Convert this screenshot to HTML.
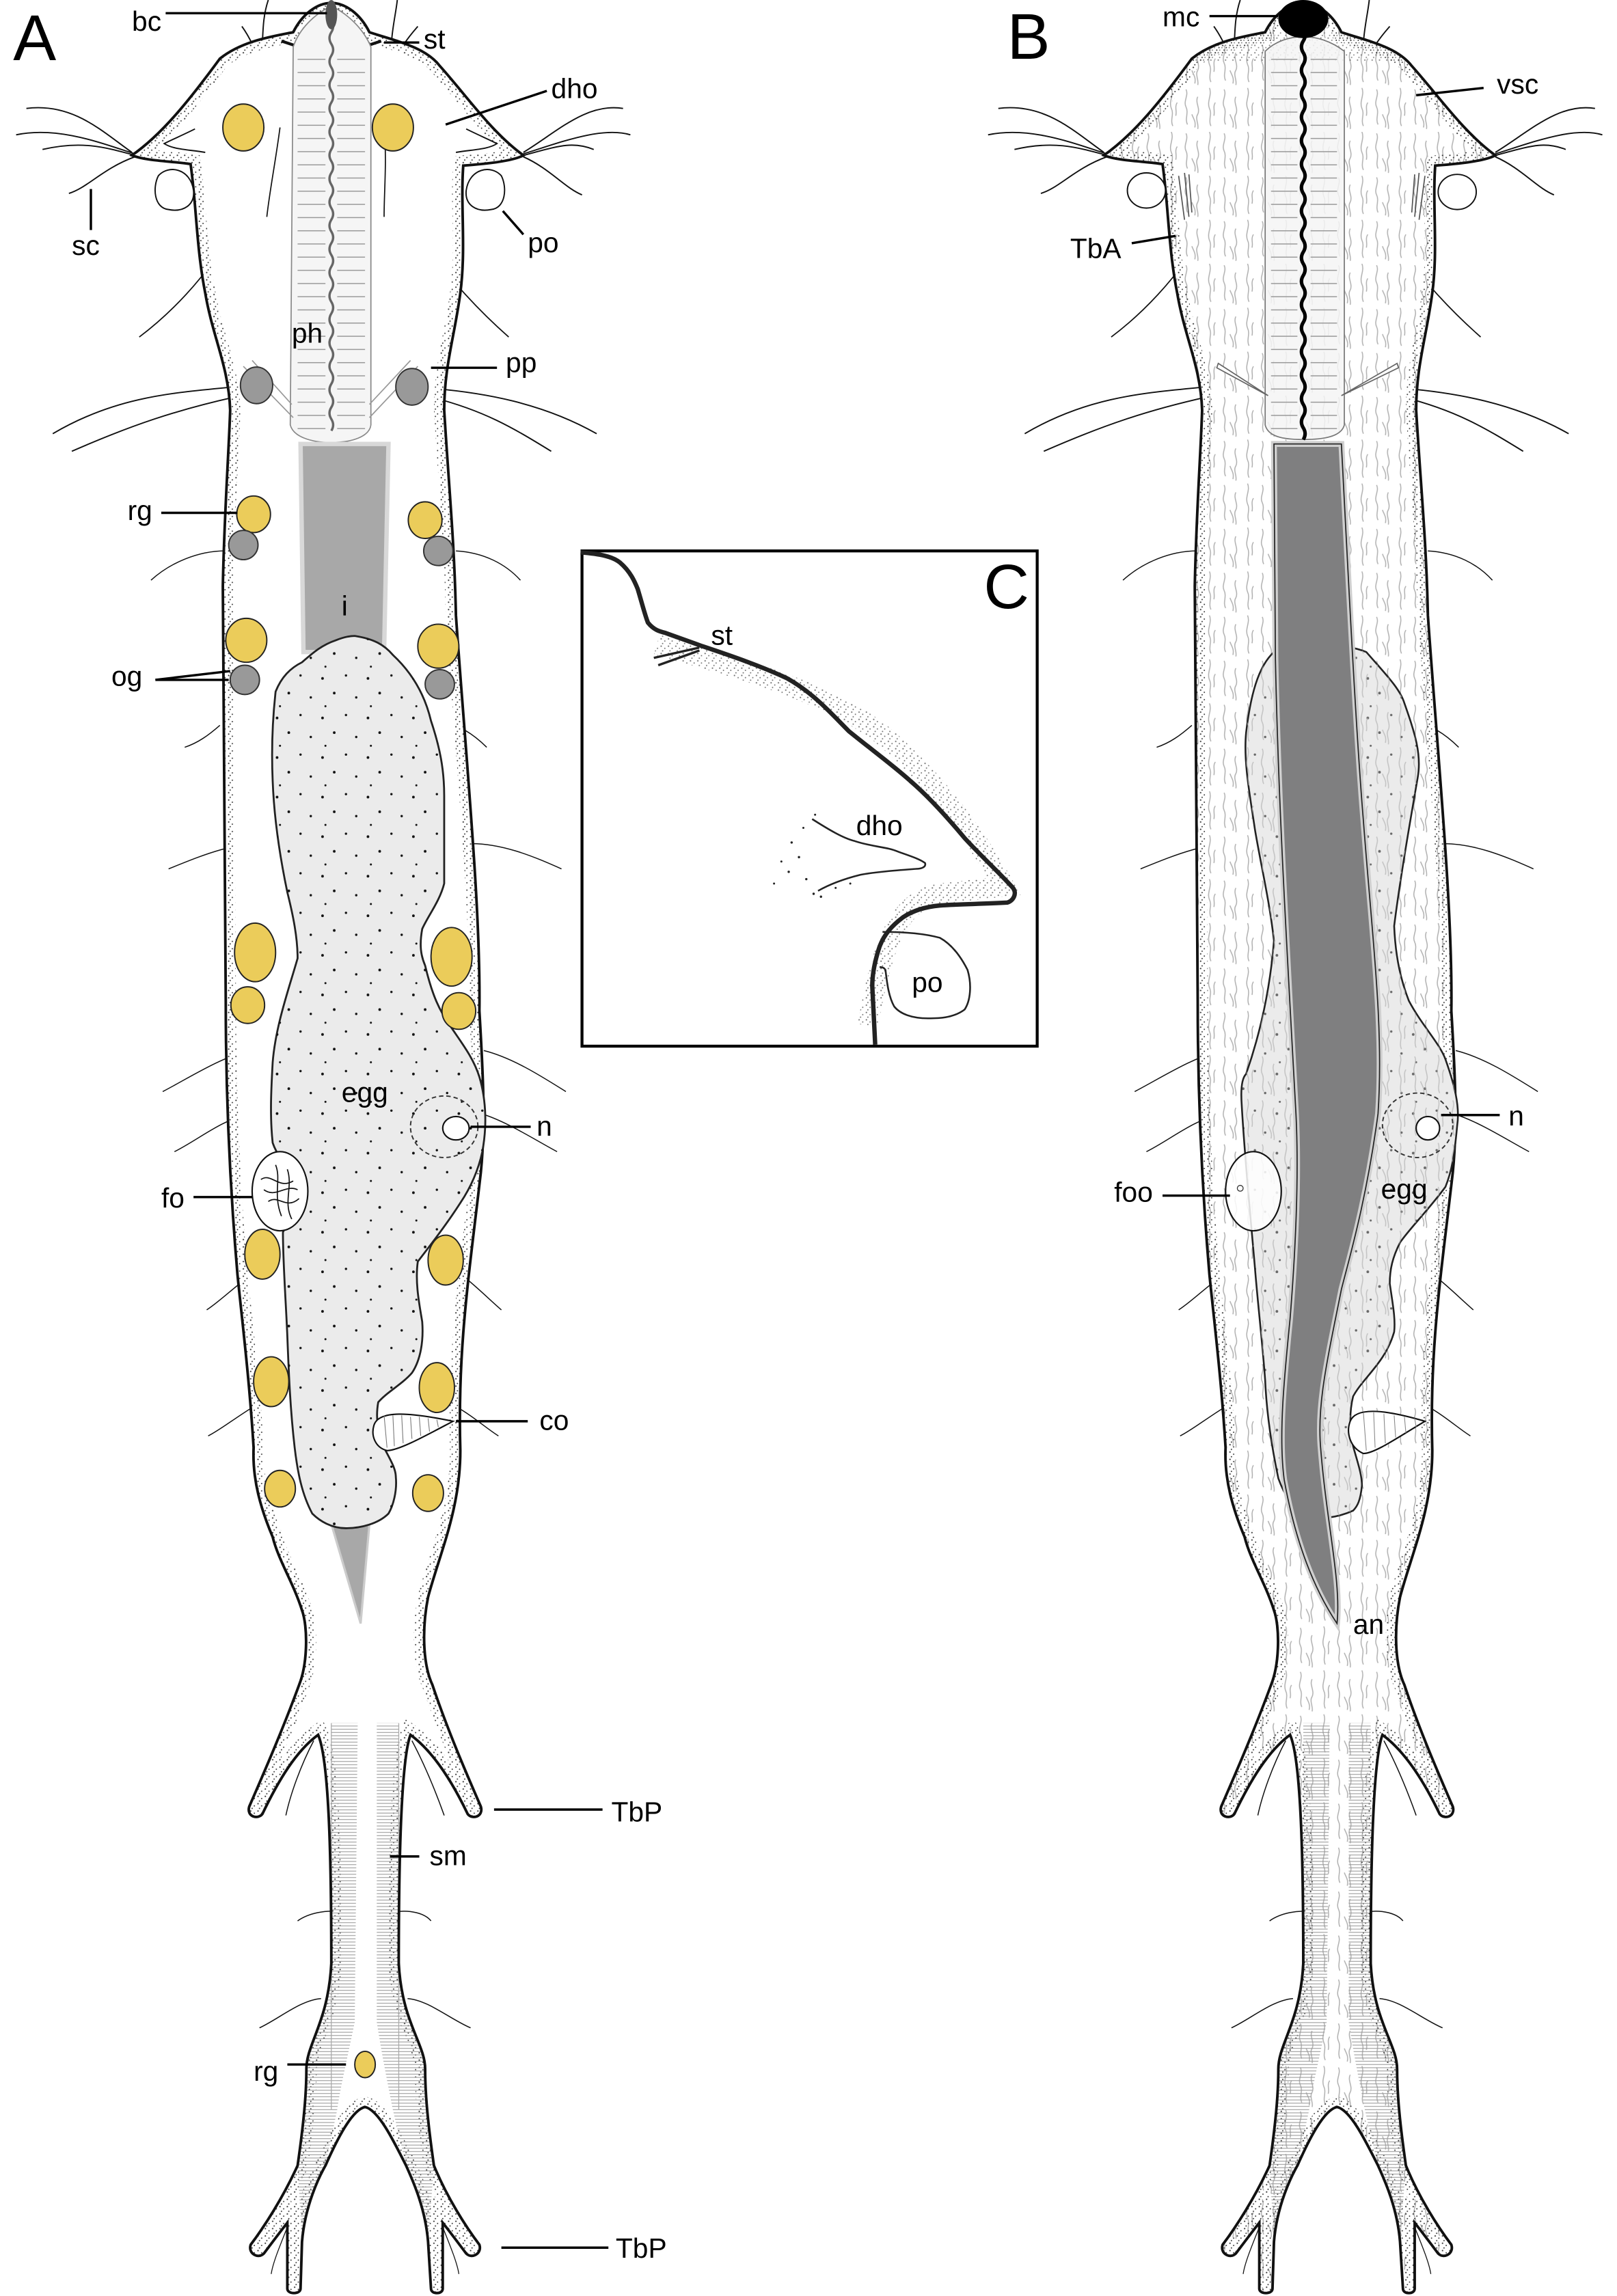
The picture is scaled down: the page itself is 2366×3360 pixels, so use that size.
<!DOCTYPE html>
<html><head><meta charset="utf-8"><style>
html,body{margin:0;padding:0;background:#fff}
svg{display:block}
text{font-family:"Liberation Sans",Arial,sans-serif;fill:#000}
</style></head><body>
<svg width="2366" height="3360" viewBox="0 0 1103 1567" preserveAspectRatio="none" xmlns="http://www.w3.org/2000/svg">
<defs>
<path id="body" d="M226,2 C236,2 246,10 252,22 C270,28 290,32 300,45 C318,65 335,90 357,106 C350,110 330,112 316,113 C314,140 318,170 314,200 C310,230 303,250 303,280 C306,330 310,370 311,420 C318,520 328,620 327,690 C330,740 331,770 328,800 C320,870 312,920 314,990 C314,1030 300,1060 292,1090 C288,1110 288,1135 295,1150 C305,1180 318,1210 328,1233 C330,1240 322,1242 319,1238 C308,1215 295,1195 280,1184 C274,1200 272,1260 272,1340 C274,1380 290,1395 290,1412 C290,1430 292,1450 296,1478 C305,1500 318,1520 327,1532 C329,1538 322,1542 318,1538 C312,1530 306,1522 302,1517 L302,1562 C302,1566 294,1566 294,1562 L292,1530 C290,1505 280,1485 277,1478 C268,1460 258,1440 249,1438 C240,1440 230,1460 222,1478 C218,1485 208,1505 206,1530 L205,1562 C205,1566 196,1566 196,1562 L196,1517 C192,1522 186,1530 180,1538 C176,1542 169,1538 171,1532 C180,1520 193,1500 203,1478 C207,1450 209,1430 209,1412 C209,1395 224,1380 226,1340 C226,1260 224,1200 217,1184 C202,1195 190,1215 179,1238 C176,1242 168,1240 170,1233 C180,1210 193,1180 204,1150 C210,1135 210,1110 206,1099 C200,1080 190,1065 186,1049 C178,1030 172,1010 173,988 C170,940 165,900 162,870 C156,800 154,740 154,684 C153,600 152,500 152,400 C153,350 156,310 157,280 C156,250 145,230 140,200 C134,170 134,140 130,112 C118,110 100,110 90,106 C110,92 128,70 150,40 C165,28 185,25 200,22 C206,10 216,2 226,2 Z"/>
<path id="eggAd" d="M242,434 C255,436 262,440 268,447 C282,460 290,475 294,492 C300,510 303,525 303,543 L303,603 C300,615 292,625 288,634 C286,645 287,652 290,659 C295,680 300,690 307,700 C315,712 323,722 327,735 C332,752 332,770 329,786 C326,800 320,812 314,821 C305,835 295,848 285,861 C283,875 286,890 288,902 C289,915 287,928 281,937 C274,945 264,950 258,957 C256,968 258,980 262,988 C266,996 270,1002 270,1008 C271,1018 268,1028 265,1033 C258,1040 246,1043 236,1043 C226,1043 218,1038 213,1033 C206,1020 203,1005 201,988 C198,962 197,938 196,912 C195,888 193,862 193,841 C198,830 205,820 209,811 C200,800 190,792 186,780 C184,762 185,743 186,725 C188,700 197,675 203,654 C203,640 200,625 196,609 C191,585 187,560 186,533 C185,510 186,490 188,472 C192,462 198,456 206,452 C214,445 220,440 229,437 C234,435 238,434 242,434Z"/>
<path id="eggBd" d="M869,445 C890,440 915,438 932,445 C945,460 955,470 958,480 C965,500 970,515 967,531 C962,560 955,600 951,632 C952,655 956,670 961,683 C970,700 982,712 986,723 C992,740 996,755 994,768 C992,790 990,800 986,810 C975,825 962,838 955,848 C950,858 948,866 948,876 C950,890 952,900 951,909 C945,930 930,940 923,953 C920,965 921,978 923,987 C926,998 929,1006 929,1014 C928,1024 926,1028 923,1031 C912,1036 900,1037 891,1036 C882,1030 876,1020 872,1009 C868,990 864,965 863,942 C861,915 858,890 856,865 C853,830 849,790 847,754 C846,740 848,735 850,733 C858,710 866,680 869,642 C866,615 860,590 856,566 C853,545 848,520 850,500 C853,475 858,455 869,445Z"/>
<clipPath id="clipA"><use href="#body"/></clipPath>
<clipPath id="clipB"><use href="#body" transform="translate(663,0)"/></clipPath>
<pattern id="stip" width="5" height="5" patternUnits="userSpaceOnUse">
<circle cx="1" cy="1" r="0.5" fill="#333"/><circle cx="3.5" cy="2.5" r="0.45" fill="#333"/><circle cx="2" cy="4.2" r="0.45" fill="#333"/></pattern>
<pattern id="eggdots" width="31" height="27" patternUnits="userSpaceOnUse">
<circle cx="3" cy="4" r="0.9" fill="#111"/><circle cx="19" cy="2" r="0.8" fill="#111"/><circle cx="11" cy="14" r="0.9" fill="#111"/><circle cx="26" cy="17" r="0.8" fill="#111"/><circle cx="5" cy="23" r="0.7" fill="#111"/></pattern>
<pattern id="rings" width="6" height="9" patternUnits="userSpaceOnUse"><line x1="0" y1="4.5" x2="6" y2="4.5" stroke="#999" stroke-width="0.7"/></pattern>
<pattern id="hatch" width="6" height="2.2" patternUnits="userSpaceOnUse"><line x1="0" y1="1" x2="6" y2="1" stroke="#999" stroke-width="0.5"/></pattern>
<pattern id="fuzz" width="26" height="30" patternUnits="userSpaceOnUse">
<path d="M3,1 c2,4 -2,8 0,12 c2,4 -1,8 1,12 M11,6 c-2,4 2,8 0,12 c-2,3 1,7 0,10 M19,0 c2,5 -2,9 0,14 c2,4 -1,8 1,12 M7,18 c1,3 3,5 2,9 M23,10 c-2,3 0,6 -1,9" fill="none" stroke="#b0b0b0" stroke-width="0.7"/></pattern>
<path id="wave" d="M0,0 q2.5,4 0,8 q-2.5,4 0,8 q2.5,4 0,8 q-2.5,4 0,8 q2.5,4 0,8 q-2.5,4 0,8 q2.5,4 0,8 q-2.5,4 0,8 q2.5,4 0,8 q-2.5,4 0,8 q2.5,4 0,8 q-2.5,4 0,8 q2.5,4 0,8 q-2.5,4 0,8 q2.5,4 0,8 q-2.5,4 0,8 q2.5,4 0,8 q-2.5,4 0,8 q2.5,4 0,8 q-2.5,4 0,8 q2.5,4 0,8 q-2.5,4 0,8 q2.5,4 0,8 q-2.5,4 0,8 q2.5,4 0,8 q-2.5,4 0,8 q2.5,4 0,8 q-2.5,4 0,8 q2.5,4 0,8 q-2.5,4 0,8 q2.5,4 0,8 q-2.5,4 0,8 q2.5,4 0,8 q-2.5,4 0,8 q2.5,4 0,8" fill="none"/>
<g id="hairs" fill="none" stroke="#111" stroke-width="0.9">
<path d="M90,104 C70,90 50,70 18,74 M92,105 C70,98 40,86 11,92 M92,106 C70,100 55,96 29,102 M92,107 C70,115 60,128 47,132"/>
<path d="M357,104 C380,90 400,70 425,74 M357,105 C380,98 410,86 430,92 M357,106 C380,100 390,96 405,102 M357,107 C375,115 385,128 397,133"/>
<path d="M160,264 C120,268 80,270 36,296 M160,271 C120,280 90,290 49,308 M294,265 C330,268 370,275 407,296 M294,271 C330,280 350,292 376,308"/>
<path d="M183,0 C178,15 180,28 178,40 M165,18 C170,25 175,35 176,42 M267,40 C266,25 270,10 271,0 M285,18 C278,26 272,34 270,42"/>
<path d="M155,163 C140,190 115,215 95,230 M288,163 C305,190 330,215 347,230" stroke-width="0.8"/>
<path d="M157,376 C135,375 115,385 103,396 M150,495 C142,502 135,507 126,510 M183,576 C160,574 135,585 115,593 M170,717 C150,722 130,735 111,745 M170,760 C150,765 135,778 119,786 M170,871 C158,880 150,888 141,894 M173,960 C160,968 150,976 142,980" stroke-width="0.7"/>
<path d="M311,376 C330,377 345,385 355,396 M301,492 C315,495 325,503 332,510 M316,576 C340,574 365,585 383,593 M330,717 C350,722 370,735 386,745 M328,760 C345,765 365,778 380,786 M316,871 C325,878 335,888 342,894 M311,960 C322,966 332,975 340,980" stroke-width="0.7"/>
<path d="M234,1305 C222,1303 210,1306 203,1311 M268,1305 C280,1303 290,1306 294,1311 M219,1364 C205,1365 190,1378 177,1384 M278,1364 C292,1365 307,1378 321,1384 M214,1188 C205,1205 198,1225 195,1239 M281,1188 C290,1205 298,1225 303,1239" stroke-width="0.7"/>
<path d="M196,1520 C190,1535 186,1545 185,1552 M302,1520 C308,1535 312,1545 313,1552" stroke-width="0.6"/>
</g>
<g id="tailhatch">
<path d="M226,1176 L244,1176 L242,1380 C238,1400 232,1425 230,1440 L222,1478 C218,1490 210,1510 206,1530 L203,1478 C207,1450 209,1430 209,1412 C209,1395 224,1380 226,1340 Z" fill="url(#hatch)"/>
<path d="M257,1176 L272,1176 L272,1340 C274,1380 290,1395 290,1412 C290,1430 292,1450 296,1478 L292,1530 C290,1505 280,1485 277,1478 L268,1440 C265,1425 260,1400 257,1380 Z" fill="url(#hatch)"/>
</g>
</defs>

<use href="#hairs"/>
<use href="#body" fill="#fff" stroke="none"/>
<g clip-path="url(#clipA)">
<use href="#body" fill="none" stroke="url(#stip)" stroke-width="14"/>
<use href="#tailhatch"/>
<line x1="226" y1="1176" x2="226" y2="1440" stroke="#aaa" stroke-width="0.6"/>
<line x1="272" y1="1176" x2="272" y2="1440" stroke="#aaa" stroke-width="0.6"/>
</g>
<use href="#body" fill="none" stroke="#111" stroke-width="1.8"/>
<g fill="none" stroke="#111" stroke-width="0.8">
<path d="M191,87 C188,110 184,130 182,148 M205,55 C208,80 210,110 209,140 M247,55 C244,80 242,110 243,140 M262,87 C264,110 262,130 262,148"/>
</g>
<path d="M108,120 C115,112 130,115 132,130 C133,140 125,145 115,143 C105,142 104,128 108,120Z" fill="#fff" stroke="#111" stroke-width="0.9"/>
<path d="M342,120 C335,112 320,115 318,130 C317,140 325,145 335,143 C345,142 346,128 342,120Z" fill="#fff" stroke="#111" stroke-width="0.9"/>
<path d="M133,88 C125,92 118,95 112,98 C118,102 128,102 140,104 M318,88 C326,92 333,95 339,98 C333,102 323,102 311,104" fill="none" stroke="#111" stroke-width="0.9"/>
<path d="M192,28 L204,32 M248,32 L260,28" stroke="#111" stroke-width="2"/>
<path d="M226,4 C214,10 204,20 200,32 L198,290 C200,298 212,302 226,302 C240,302 252,298 253,290 L253,32 C248,20 238,10 226,4Z" fill="#f5f5f5" stroke="#888" stroke-width="0.8"/>
<rect x="203" y="35" width="19" height="262" fill="url(#rings)"/>
<rect x="230" y="35" width="19" height="262" fill="url(#rings)"/>
<path d="M166,250 L200,285 M172,246 L199,276 M285,250 L252,285 M280,246 L252,276" stroke="#999" stroke-width="0.8" fill="none"/>
<use href="#wave" x="226" y="14" stroke="#666" stroke-width="1.6"/>
<ellipse cx="226" cy="10" rx="4" ry="10" fill="#555"/>
<path d="M205,303 L265,303 L262,445 L207,445Z" fill="#a8a8a8" stroke="#d8d8d8" stroke-width="3"/>
<path d="M226,1040 L252,1040 L246,1108 Z" fill="#a8a8a8" stroke="#ccc" stroke-width="1.5"/>
<use href="#eggAd" fill="#ebebeb" stroke="#222" stroke-width="1.3"/>
<use href="#eggAd" fill="url(#eggdots)" stroke="none"/>
<ellipse cx="303" cy="769" rx="23" ry="21" fill="none" stroke="#333" stroke-width="0.9" stroke-dasharray="3 2"/>
<ellipse cx="311" cy="770" rx="9" ry="8" fill="#fff" stroke="#111" stroke-width="1"/>
<ellipse cx="191" cy="813" rx="19" ry="27" fill="#fff" stroke="#111" stroke-width="1"/>
<path d="M178,805 C185,800 190,812 200,806 M183,820 C190,815 195,826 204,818 M188,795 C192,805 186,815 192,830 M196,798 C200,810 193,820 199,832 M180,812 C188,818 195,808 203,812" fill="none" stroke="#111" stroke-width="0.8"/>
<path d="M255,973 C258,962 280,964 309,970 C290,980 272,990 264,990 C256,988 253,980 255,973Z" fill="#fff" stroke="#111" stroke-width="1"/>
<path d="M262,966 L264,988 M268,966 L269,987 M274,966 L275,985 M280,967 L281,982 M286,967 L287,980 M292,968 L293,977 M298,969 L299,974" stroke="#777" stroke-width="0.5"/>
<g fill="#ebcc5a" stroke="#222" stroke-width="0.9">
<ellipse cx="166" cy="87" rx="14" ry="16"/><ellipse cx="268" cy="87" rx="14" ry="16"/>
<ellipse cx="173" cy="351" rx="11.5" ry="12.5"/><ellipse cx="290" cy="355" rx="11.5" ry="12.5"/>
<ellipse cx="168" cy="437" rx="14" ry="15"/><ellipse cx="299" cy="441" rx="14" ry="15"/>
<ellipse cx="174" cy="650" rx="14" ry="20"/><ellipse cx="308" cy="653" rx="14" ry="20"/>
<ellipse cx="169" cy="686" rx="11.5" ry="12.5"/><ellipse cx="313" cy="690" rx="11.5" ry="12.5"/>
<ellipse cx="179" cy="856" rx="12" ry="17"/><ellipse cx="304" cy="860" rx="12" ry="17"/>
<ellipse cx="185" cy="943" rx="12" ry="17"/><ellipse cx="298" cy="947" rx="12" ry="17"/>
<ellipse cx="191" cy="1016" rx="10.5" ry="12.5"/><ellipse cx="292" cy="1019" rx="10.5" ry="12.5"/>
<ellipse cx="249" cy="1409" rx="7" ry="9"/>
</g>
<g fill="#999" stroke="#333" stroke-width="0.9">
<ellipse cx="175" cy="263" rx="11" ry="12.5"/><ellipse cx="281" cy="264" rx="11" ry="12.5"/>
<ellipse cx="166" cy="372" rx="10" ry="10"/><ellipse cx="299" cy="376" rx="10" ry="10"/>
<ellipse cx="167" cy="464" rx="10" ry="10"/><ellipse cx="300" cy="467" rx="10" ry="10"/>
</g>

<g transform="translate(663,0)"><use href="#hairs"/><use href="#body" fill="#fff"/></g>
<g clip-path="url(#clipB)">
<rect x="750" y="0" width="290" height="1567" fill="url(#fuzz)"/>
<g transform="translate(663,0)"><use href="#body" fill="none" stroke="url(#stip)" stroke-width="14"/><use href="#tailhatch"/></g>
<rect x="750" y="22" width="290" height="20" fill="url(#stip)" opacity="0.6"/>
</g>
<use href="#body" transform="translate(663,0)" fill="none" stroke="#111" stroke-width="1.8"/>
<ellipse cx="782" cy="130" rx="13" ry="12" fill="#fff" stroke="#111" stroke-width="0.9"/>
<ellipse cx="994" cy="131" rx="13" ry="12" fill="#fff" stroke="#111" stroke-width="0.9"/>
<path d="M804,120 L808,150 M808,118 L811,148 M811,119 L813,145 M972,120 L968,150 M968,118 L965,148 M965,119 L963,145" stroke="#555" stroke-width="0.8"/>
<use href="#eggBd" fill="#ebebeb" stroke="#222" stroke-width="1.2"/>
<use href="#eggBd" fill="url(#eggdots)" stroke="none" opacity="0.6"/>
<g clip-path="url(#clipB)"><use href="#eggBd" fill="url(#fuzz)" stroke="none" opacity="0.7"/></g>
<path d="M869,303 L915,303 C920,400 925,500 930,560 C936,640 944,700 940,760 C932,820 920,860 915,880 C905,930 898,960 901,990 C905,1040 915,1080 912,1108 C900,1090 885,1060 876,1010 C872,980 876,940 880,900 C884,850 886,800 884,760 C878,650 872,550 870,450 Z" fill="#7f7f80" stroke="#cfcfcf" stroke-width="4"/>
<path d="M869,303 L915,303 C920,400 925,500 930,560 C936,640 944,700 940,760 C932,820 920,860 915,880 C905,930 898,960 901,990 C905,1040 915,1080 912,1108 C900,1090 885,1060 876,1010 C872,980 876,940 880,900 C884,850 886,800 884,760 C878,650 872,550 870,450 Z" fill="none" stroke="#222" stroke-width="0.8"/>
<path d="M863,35 C870,28 880,25 889,25 C898,25 908,28 917,35 L917,290 C915,298 903,300 889,300 C875,300 865,298 863,290Z" fill="#f5f5f5" fill-opacity="0.85" stroke="#777" stroke-width="0.8"/>
<rect x="867" y="40" width="18" height="255" fill="url(#rings)"/>
<rect x="894" y="40" width="18" height="255" fill="url(#rings)"/>
<path d="M831,248 L865,270 L830,251Z M953,248 L915,270 L954,251Z" fill="#fff" stroke="#666" stroke-width="0.8"/>
<use href="#wave" x="889" y="20" stroke="#000" stroke-width="2.4"/>
<ellipse cx="889" cy="13" rx="17" ry="13" fill="#000"/>
<ellipse cx="967" cy="768" rx="24" ry="22" fill="none" stroke="#333" stroke-width="0.9" stroke-dasharray="3 2"/>
<ellipse cx="974" cy="770" rx="8" ry="8" fill="#fff" stroke="#111" stroke-width="1"/>
<ellipse cx="855" cy="813" rx="19" ry="27" fill="#fff" fill-opacity="0.85" stroke="#111" stroke-width="1"/>
<circle cx="846" cy="811" r="2" fill="#fff" stroke="#333" stroke-width="0.6"/>
<path d="M921,970 C925,960 945,962 972,970 C955,980 938,992 930,992 C921,988 918,978 921,970Z" fill="#fff" stroke="#111" stroke-width="1"/>
<path d="M930,964 L932,990 M937,964 L938,988 M944,965 L945,985 M951,966 L952,981 M958,967 L959,978 M965,968 L966,974" stroke="#888" stroke-width="0.5"/>

<rect x="397" y="376" width="310.5" height="338" fill="#fff" stroke="#000" stroke-width="2"/>
<path d="M448,440 C500,455 560,470 600,500 C630,525 660,560 685,605 L640,610 C615,615 602,640 592,700" fill="none" stroke="url(#stip)" stroke-width="14" opacity="0.7"/>
<path d="M396,377 C410,378 418,380 423,384 C430,390 433,397 435,402 C438,412 440,420 442,425 C446,430 450,431 454,432 L479,441 C500,448 520,455 537,463 C555,473 568,488 579,499 C595,512 610,523 621,533 C635,545 648,560 658,572 C670,585 682,596 691,606 C694,610 691,615 687,616 C670,617 655,617 641,618 C630,619 622,622 616,626 C608,632 603,638 600,646 C597,655 595,665 595,673 L597,713" fill="none" stroke="#222" stroke-width="3"/>
<path d="M446,449 L477,442 M449,454 L477,444" stroke="#222" stroke-width="1.6"/>
<path d="M554,559 C565,566 575,572 583,574 C595,578 605,578 612,581 C620,584 627,586 631,589 C632,592 628,593 625,593 C612,594 598,595 587,597 C575,600 565,604 558,608" fill="none" stroke="#222" stroke-width="1.2"/>
<path d="M602,636 C615,636 630,637 641,640 C650,645 656,654 660,662 C663,672 662,683 658,689 C650,695 640,695 633,695 C622,695 614,692 610,687 C606,680 605,670 604,662 C603,660 601,660 600,660" fill="none" stroke="#222" stroke-width="1.2"/>
<g fill="#222">
<circle cx="540" cy="575" r="0.8"/><circle cx="545" cy="585" r="0.8"/><circle cx="538" cy="595" r="0.8"/><circle cx="550" cy="600" r="0.8"/><circle cx="555" cy="610" r="0.8"/><circle cx="528" cy="603" r="0.7"/><circle cx="548" cy="565" r="0.7"/><circle cx="560" cy="612" r="0.8"/><circle cx="570" cy="606" r="0.7"/><circle cx="580" cy="603" r="0.7"/><circle cx="533" cy="588" r="0.7"/><circle cx="556" cy="556" r="0.7"/>
</g>

<g stroke="#000" stroke-width="1.6" fill="none">
<line x1="113" y1="9" x2="223" y2="9"/>
<line x1="262" y1="29" x2="286" y2="29"/>
<line x1="304" y1="85" x2="373" y2="62"/>
<line x1="62" y1="129" x2="62" y2="157"/>
<line x1="343" y1="144" x2="357" y2="160"/>
<line x1="294" y1="251" x2="339" y2="251"/>
<line x1="110" y1="350" x2="162" y2="350"/>
<line x1="106" y1="464" x2="156" y2="464"/>
<line x1="106" y1="464" x2="157" y2="458"/>
<line x1="321" y1="769" x2="362" y2="769"/>
<line x1="132" y1="817" x2="172" y2="817"/>
<line x1="311" y1="970" x2="360" y2="970"/>
<line x1="337" y1="1235" x2="411" y2="1235"/>
<line x1="266" y1="1267" x2="286" y2="1267"/>
<line x1="196" y1="1409" x2="236" y2="1409"/>
<line x1="342" y1="1534" x2="415" y2="1534"/>
<line x1="825" y1="11" x2="872" y2="11"/>
<line x1="966" y1="65" x2="1012" y2="60"/>
<line x1="772" y1="166" x2="802" y2="161"/>
<line x1="983" y1="761" x2="1023" y2="761"/>
<line x1="793" y1="816" x2="839" y2="816"/>
</g>

<g font-size="19">
<text x="90" y="21">bc</text>
<text x="289" y="33">st</text>
<text x="376" y="67">dho</text>
<text x="49" y="174">sc</text>
<text x="360" y="172">po</text>
<text x="199" y="234">ph</text>
<text x="345" y="254">pp</text>
<text x="87" y="355">rg</text>
<text x="233" y="420">i</text>
<text x="76" y="468">og</text>
<text x="233" y="752">egg</text>
<text x="366" y="775">n</text>
<text x="110" y="824">fo</text>
<text x="368" y="976">co</text>
<text x="417" y="1243">TbP</text>
<text x="293" y="1273">sm</text>
<text x="173" y="1420">rg</text>
<text x="420" y="1541">TbP</text>
<text x="793" y="18">mc</text>
<text x="1021" y="64">vsc</text>
<text x="730" y="176">TbA</text>
<text x="1029" y="768">n</text>
<text x="760" y="820">foo</text>
<text x="942" y="818">egg</text>
<text x="923" y="1115">an</text>
<text x="485" y="440">st</text>
<text x="584" y="570">dho</text>
<text x="622" y="677">po</text>
</g>
<text x="9" y="41" font-size="44">A</text>
<text x="687" y="40" font-size="44">B</text>
<text x="671" y="415" font-size="43">C</text>
</svg>
</body></html>
